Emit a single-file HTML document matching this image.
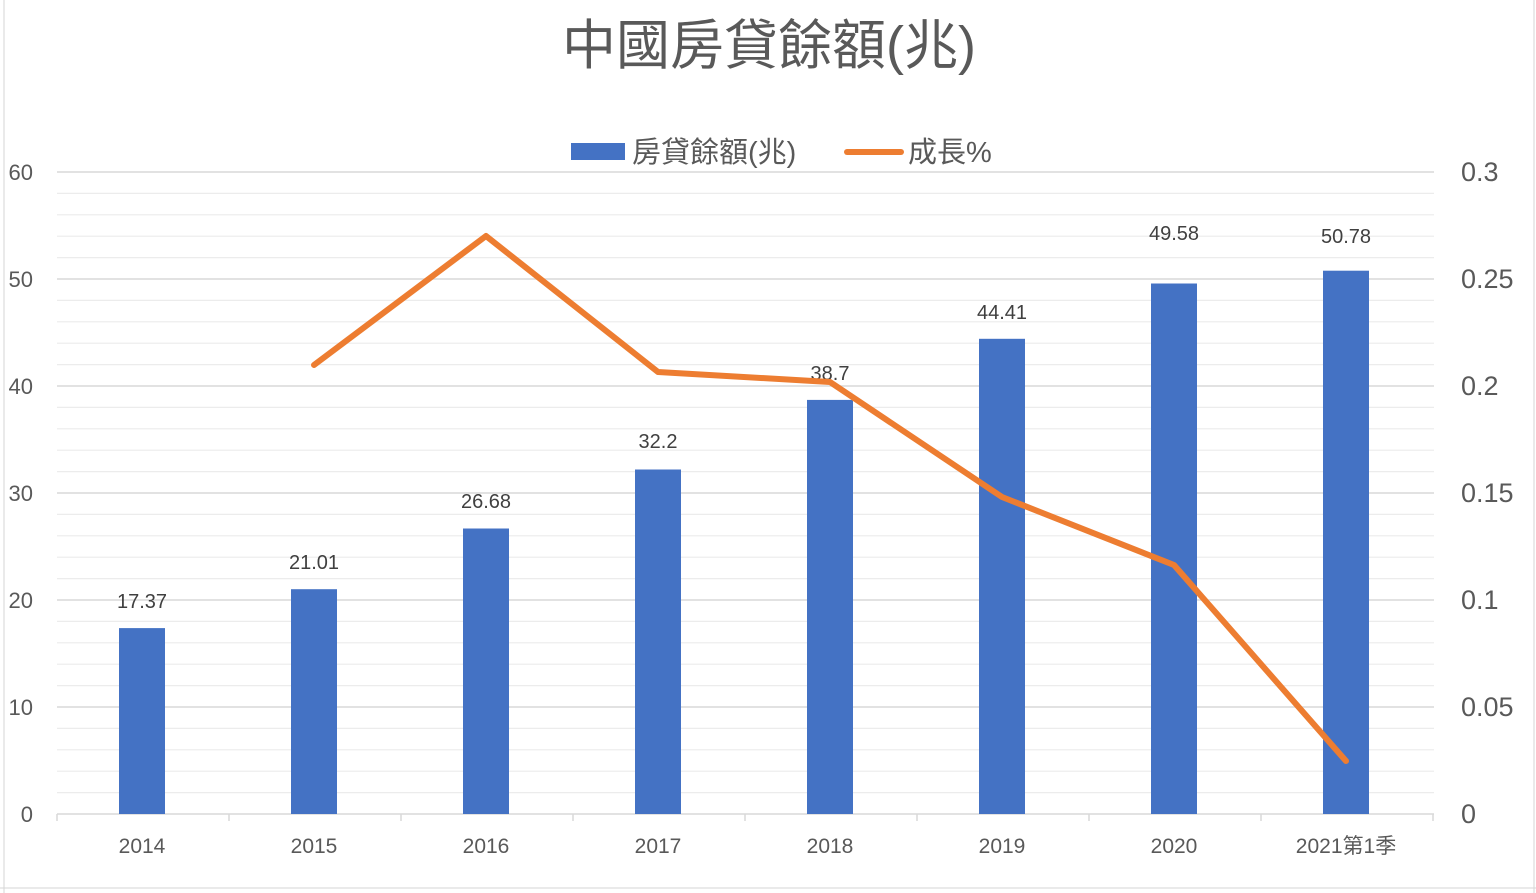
<!DOCTYPE html>
<html><head><meta charset="utf-8"><style>
html,body{margin:0;padding:0;background:#fff;}
svg{display:block;}
text{font-family:"Liberation Sans","Noto Sans CJK TC",sans-serif;}
</style></head><body>
<svg width="1536" height="893" viewBox="0 0 1536 893" xmlns="http://www.w3.org/2000/svg">
<rect width="1536" height="893" fill="#fff"/>
<line x1="4" y1="0" x2="4" y2="893" stroke="#d6d6d6" stroke-width="1"/>
<line x1="1534" y1="0" x2="1534" y2="893" stroke="#d6d6d6" stroke-width="1"/>
<line x1="0" y1="888" x2="1536" y2="888" stroke="#d6d6d6" stroke-width="1"/>
<g stroke="#ececec" stroke-width="1.2">
<line x1="57" y1="193.4" x2="1434" y2="193.4"/><line x1="57" y1="214.8" x2="1434" y2="214.8"/><line x1="57" y1="236.2" x2="1434" y2="236.2"/><line x1="57" y1="257.6" x2="1434" y2="257.6"/>
<line x1="57" y1="300.4" x2="1434" y2="300.4"/><line x1="57" y1="321.8" x2="1434" y2="321.8"/><line x1="57" y1="343.2" x2="1434" y2="343.2"/><line x1="57" y1="364.6" x2="1434" y2="364.6"/>
<line x1="57" y1="407.4" x2="1434" y2="407.4"/><line x1="57" y1="428.8" x2="1434" y2="428.8"/><line x1="57" y1="450.2" x2="1434" y2="450.2"/><line x1="57" y1="471.6" x2="1434" y2="471.6"/>
<line x1="57" y1="514.4" x2="1434" y2="514.4"/><line x1="57" y1="535.8" x2="1434" y2="535.8"/><line x1="57" y1="557.2" x2="1434" y2="557.2"/><line x1="57" y1="578.6" x2="1434" y2="578.6"/>
<line x1="57" y1="621.4" x2="1434" y2="621.4"/><line x1="57" y1="642.8" x2="1434" y2="642.8"/><line x1="57" y1="664.2" x2="1434" y2="664.2"/><line x1="57" y1="685.6" x2="1434" y2="685.6"/>
<line x1="57" y1="728.4" x2="1434" y2="728.4"/><line x1="57" y1="749.8" x2="1434" y2="749.8"/><line x1="57" y1="771.2" x2="1434" y2="771.2"/><line x1="57" y1="792.6" x2="1434" y2="792.6"/>
</g>
<g stroke="#d9d9d9" stroke-width="1.5">
<line x1="57" y1="172" x2="1434" y2="172"/><line x1="57" y1="279" x2="1434" y2="279"/><line x1="57" y1="386" x2="1434" y2="386"/>
<line x1="57" y1="493" x2="1434" y2="493"/><line x1="57" y1="600" x2="1434" y2="600"/><line x1="57" y1="707" x2="1434" y2="707"/>
<line x1="57" y1="814" x2="1434" y2="814"/>
<line x1="57" y1="814" x2="57" y2="821"/><line x1="229" y1="814" x2="229" y2="821"/><line x1="401" y1="814" x2="401" y2="821"/><line x1="573" y1="814" x2="573" y2="821"/><line x1="745" y1="814" x2="745" y2="821"/><line x1="917" y1="814" x2="917" y2="821"/><line x1="1089" y1="814" x2="1089" y2="821"/><line x1="1261" y1="814" x2="1261" y2="821"/><line x1="1433" y1="814" x2="1433" y2="821"/>
</g>
<g fill="#4472c4">
<rect x="119" y="628.1" width="46" height="185.9"/>
<rect x="291" y="589.2" width="46" height="224.8"/>
<rect x="463" y="528.5" width="46" height="285.5"/>
<rect x="635" y="469.5" width="46" height="344.5"/>
<rect x="807" y="399.9" width="46" height="414.1"/>
<rect x="979" y="338.8" width="46" height="475.2"/>
<rect x="1151" y="283.5" width="46" height="530.5"/>
<rect x="1323" y="270.7" width="46" height="543.3"/>
</g>
<g fill="#404040" font-size="20" text-anchor="middle">
<text x="142" y="608">17.37</text><text x="314" y="569">21.01</text><text x="486" y="508">26.68</text><text x="658" y="448">32.2</text>
<text x="830" y="380">38.7</text><text x="1002" y="319">44.41</text><text x="1174" y="240">49.58</text><text x="1346" y="243">50.78</text>
</g>
<polyline points="314,365 486,236 658,372 830,382 1002,497 1174,565 1346,761" fill="none" stroke="#ed7d31" stroke-width="6" stroke-linejoin="round" stroke-linecap="round"/>
<g fill="#595959" font-size="21" text-anchor="middle">
<text x="142" y="853">2014</text><text x="314" y="853">2015</text><text x="486" y="853">2016</text><text x="658" y="853">2017</text>
<text x="830" y="853">2018</text><text x="1002" y="853">2019</text><text x="1174" y="853">2020</text><text x="1346" y="853">2021第1季</text>
</g>
<g fill="#595959" font-size="22" text-anchor="end">
<text x="33" y="180">60</text><text x="33" y="287">50</text><text x="33" y="394">40</text><text x="33" y="501">30</text><text x="33" y="608">20</text><text x="33" y="715">10</text><text x="33" y="822">0</text>
</g>
<g fill="#595959" font-size="27" text-anchor="start">
<text x="1461" y="181">0.3</text><text x="1461" y="288">0.25</text><text x="1461" y="395">0.2</text><text x="1461" y="502">0.15</text><text x="1461" y="609">0.1</text><text x="1461" y="716">0.05</text><text x="1461" y="823">0</text>
</g>
<text x="769" y="64" fill="#595959" font-size="54" text-anchor="middle">中國房貸餘額(兆)</text>
<rect x="571" y="143" width="54" height="17" fill="#4472c4"/>
<text x="632" y="162" fill="#595959" font-size="29">房貸餘額(兆)</text>
<line x1="847" y1="152" x2="901" y2="152" stroke="#ed7d31" stroke-width="6" stroke-linecap="round"/>
<text x="908" y="162" fill="#595959" font-size="29">成長%</text>
</svg>
</body></html>
